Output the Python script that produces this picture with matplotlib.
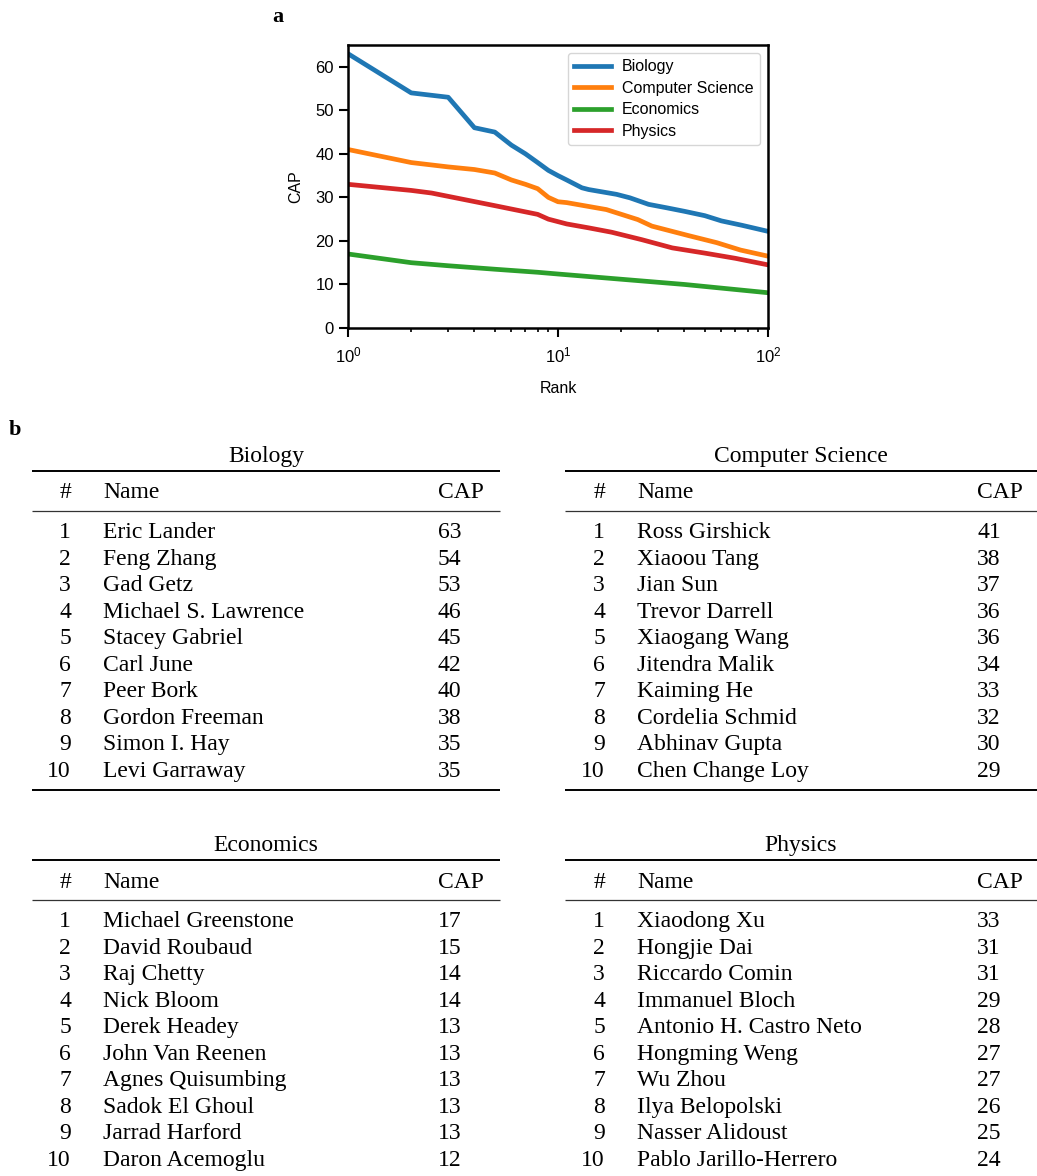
import matplotlib
matplotlib.use("Agg")
import matplotlib.pyplot as plt

plt.rcParams['font.family'] = ['Liberation Sans', 'DejaVu Sans']
plt.rcParams['mathtext.fontset'] = 'custom'
plt.rcParams['mathtext.rm'] = 'Liberation Sans'
plt.rcParams['mathtext.default'] = 'regular'

# ---- panel a data ----
fields = ["Biology", "Computer Science", "Economics", "Physics"]
colors = ["#1f77b4", "#ff7f0e", "#2ca02c", "#d62728"]

bio_rank = [1, 2, 3, 4, 5, 6, 7, 8, 9, 10, 11, 13, 14, 19, 22, 27, 33, 40, 50, 60, 75, 100]
bio_cap = [63, 54, 53, 46, 45, 42, 40, 38, 36.2, 35, 34, 32.2, 31.8, 30.7, 29.9, 28.4, 27.6, 26.8, 25.8, 24.6, 23.6, 22.2]

cs_rank = [1, 2, 3, 4, 5, 6, 7, 8, 9, 10, 11, 17, 24, 28, 42, 57, 74, 100]
cs_cap = [41, 38, 37, 36.4, 35.6, 34, 33, 32, 30, 29, 28.8, 27.2, 24.9, 23.4, 21.2, 19.6, 17.9, 16.5]

eco_rank = [1, 2, 3, 5, 8, 10, 20, 40, 100]
eco_cap = [17, 15, 14.3, 13.5, 12.8, 12.4, 11.2, 10.0, 8.1]

phy_rank = [1, 2, 2.5, 5, 8, 9, 11, 14, 18, 25, 35, 50, 70, 100]
phy_cap = [33, 31.6, 31, 28.1, 26.1, 25, 23.9, 23.0, 22, 20.3, 18.4, 17.2, 16, 14.5]

ranks = [bio_rank, cs_rank, eco_rank, phy_rank]
caps = [bio_cap, cs_cap, eco_cap, phy_cap]

# ---- panel b data (top 10 per field) ----
bio_names = ["Eric Lander", "Feng Zhang", "Gad Getz", "Michael S. Lawrence", "Stacey Gabriel",
             "Carl June", "Peer Bork", "Gordon Freeman", "Simon I. Hay", "Levi Garraway"]
bio_top = [63, 54, 53, 46, 45, 42, 40, 38, 35, 35]

cs_names = ["Ross Girshick", "Xiaoou Tang", "Jian Sun", "Trevor Darrell", "Xiaogang Wang",
            "Jitendra Malik", "Kaiming He", "Cordelia Schmid", "Abhinav Gupta", "Chen Change Loy"]
cs_top = [41, 38, 37, 36, 36, 34, 33, 32, 30, 29]

eco_names = ["Michael Greenstone", "David Roubaud", "Raj Chetty", "Nick Bloom", "Derek Headey",
             "John Van Reenen", "Agnes Quisumbing", "Sadok El Ghoul", "Jarrad Harford", "Daron Acemoglu"]
eco_top = [17, 15, 14, 14, 13, 13, 13, 13, 13, 12]

phy_names = ["Xiaodong Xu", "Hongjie Dai", "Riccardo Comin", "Immanuel Bloch", "Antonio H. Castro Neto",
             "Hongming Weng", "Wu Zhou", "Ilya Belopolski", "Nasser Alidoust", "Pablo Jarillo-Herrero"]
phy_top = [33, 31, 31, 29, 28, 27, 27, 26, 25, 24]

W, H = 1037, 1176
fig = plt.figure(figsize=(W / 100, H / 100), dpi=100)

# full-figure canvas in pixel units for the tables and panel letters
bg = fig.add_axes([0, 0, 1, 1])
bg.set_xlim(0, W)
bg.set_ylim(H, 0)
bg.axis('off')

serif = ['Liberation Serif', 'DejaVu Serif']
bg.text(272.5, 22.5, "a", fontsize=16, fontweight='bold', family=serif, va='baseline')
bg.text(9, 435, "b", fontsize=16, fontweight='bold', family=serif, va='baseline')


def draw_table(x0, x1, y0, title, names, vals, num_r, name_l, cap_l):
    fs = 17
    bg.text((x0 + x1) / 2, y0 - 8.7, title, fontsize=fs, family=serif, ha='center', va='baseline')
    bg.hlines(y0, x0, x1, color='black', lw=1.4)
    bg.text(num_r, y0 + 27.5, "#", fontsize=fs, family=serif, ha='right', va='baseline')
    bg.text(name_l, y0 + 27.5, "Name", fontsize=fs, family=serif, va='baseline')
    bg.text(cap_l, y0 + 27.5, "CAP", fontsize=fs, family=serif, va='baseline')
    bg.hlines(y0 + 39.7, x0, x1, color='#333333', lw=0.9)
    for i, (n, v) in enumerate(zip(names, vals)):
        yb = y0 + 67.4 + 26.5 * i
        bg.text(num_r, yb, str(i + 1), fontsize=fs, family=serif, ha='right', va='baseline')
        bg.text(name_l, yb, n, fontsize=fs, family=serif, va='baseline')
        bg.text(cap_l, yb, str(v), fontsize=fs, family=serif, va='baseline')
    bg.hlines(y0 + 319, x0, x1, color='black', lw=1.4)


draw_table(32, 500, 471, "Biology", bio_names, bio_top, 71, 103, 438)
draw_table(565, 1037, 471, "Computer Science", cs_names, cs_top, 605, 637, 977)
draw_table(32, 500, 860, "Economics", eco_names, eco_top, 71, 103, 438)
draw_table(565, 1037, 860, "Physics", phy_names, phy_top, 605, 637, 977)

# ---- panel a ----
ax = fig.add_axes([348 / W, 1 - 328 / H, 420 / W, 283 / H])
for r, c, col, lab in zip(ranks, caps, colors, fields):
    ax.plot(r, c, color=col, lw=3.4, label=lab)
ax.set_xscale('log')
ax.set_xlim(1, 100)
ax.set_ylim(0, 65)
ax.set_yticks(range(0, 61, 10))
ax.set_xlabel("Rank", fontsize=11.5, labelpad=11)
ax.set_ylabel("CAP", fontsize=11.5, labelpad=9)
ax.tick_params(which='major', length=6.5, width=1.5, labelsize=12, color='black')
ax.tick_params(axis='x', which='major', pad=6)
ax.tick_params(which='minor', length=3, width=1.2)
for s in ax.spines.values():
    s.set_linewidth(1.8)
ax.legend(loc='upper right', fontsize=11.5, handlelength=2.3, handletextpad=0.7, labelspacing=0.4)

fig.savefig("out.png", dpi=100)
